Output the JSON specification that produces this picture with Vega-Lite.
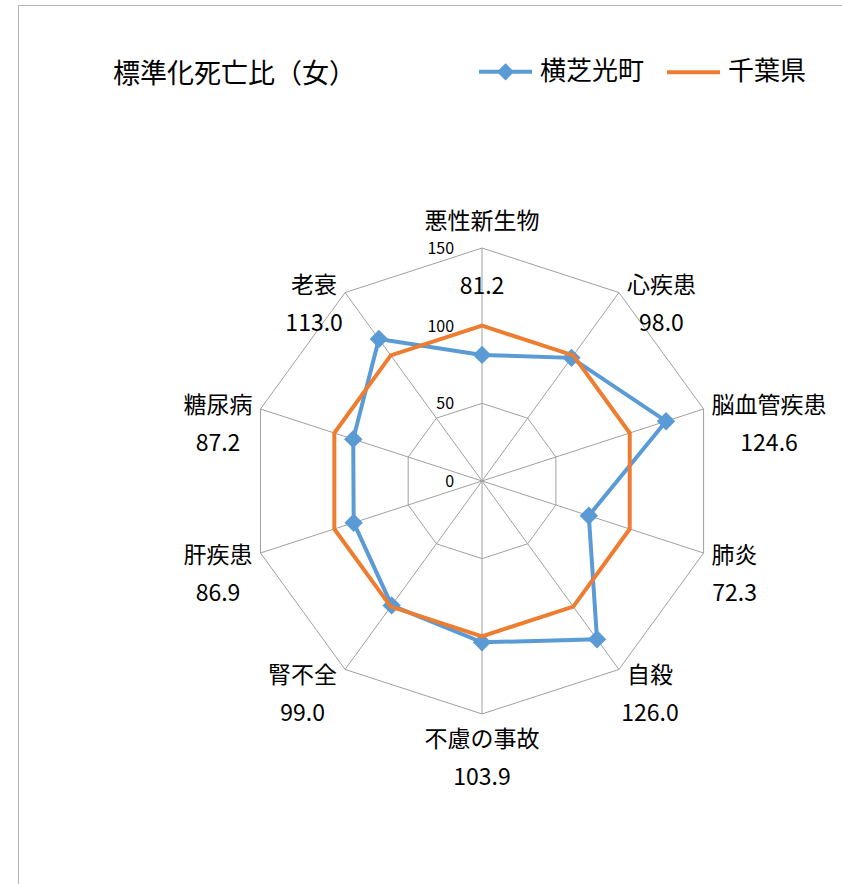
{
  "$schema": "https://vega.github.io/schema/vega-lite/v6.json",
  "width": 824,
  "height": 879,
  "autosize": {"type": "none"},
  "padding": {"left": 18, "top": 5, "right": 0, "bottom": 0},
  "background": "white",
  "config": {
    "view": {"stroke": "#B4B4B4", "strokeWidth": 1, "strokeDash": [824, 1703, 879]},
    "font": "Noto Sans CJK JP",
    "text": {"font": "Noto Sans CJK JP"}
  },
  "title": {
    "text": "標準化死亡比（女）",
    "anchor": "start",
    "frame": "group",
    "orient": "top",
    "offset": 0,
    "baseline": "middle",
    "dx": 95,
    "dy": 97,
    "fontSize": 27,
    "fontWeight": "normal",
    "font": "Noto Sans CJK JP",
    "color": "#000000"
  },
  "datasets": {
    "rates": [
      {"i": 0, "cat": "悪性新生物", "series": "横芝光町", "value": 81.2},
      {"i": 1, "cat": "心疾患", "series": "横芝光町", "value": 98.0},
      {"i": 2, "cat": "脳血管疾患", "series": "横芝光町", "value": 124.6},
      {"i": 3, "cat": "肺炎", "series": "横芝光町", "value": 72.3},
      {"i": 4, "cat": "自殺", "series": "横芝光町", "value": 126.0},
      {"i": 5, "cat": "不慮の事故", "series": "横芝光町", "value": 103.9},
      {"i": 6, "cat": "腎不全", "series": "横芝光町", "value": 99.0},
      {"i": 7, "cat": "肝疾患", "series": "横芝光町", "value": 86.9},
      {"i": 8, "cat": "糖尿病", "series": "横芝光町", "value": 87.2},
      {"i": 9, "cat": "老衰", "series": "横芝光町", "value": 113.0},
      {"i": 0, "cat": "悪性新生物", "series": "千葉県", "value": 100},
      {"i": 1, "cat": "心疾患", "series": "千葉県", "value": 100},
      {"i": 2, "cat": "脳血管疾患", "series": "千葉県", "value": 100},
      {"i": 3, "cat": "肺炎", "series": "千葉県", "value": 100},
      {"i": 4, "cat": "自殺", "series": "千葉県", "value": 100},
      {"i": 5, "cat": "不慮の事故", "series": "千葉県", "value": 100},
      {"i": 6, "cat": "腎不全", "series": "千葉県", "value": 100},
      {"i": 7, "cat": "肝疾患", "series": "千葉県", "value": 100},
      {"i": 8, "cat": "糖尿病", "series": "千葉県", "value": 100},
      {"i": 9, "cat": "老衰", "series": "千葉県", "value": 100}
    ],
    "grid": [
      {"i": 0, "levels": [50, 100, 150]},
      {"i": 1, "levels": [50, 100, 150]},
      {"i": 2, "levels": [50, 100, 150]},
      {"i": 3, "levels": [50, 100, 150]},
      {"i": 4, "levels": [50, 100, 150]},
      {"i": 5, "levels": [50, 100, 150]},
      {"i": 6, "levels": [50, 100, 150]},
      {"i": 7, "levels": [50, 100, 150]},
      {"i": 8, "levels": [50, 100, 150]},
      {"i": 9, "levels": [50, 100, 150]}
    ],
    "ticks": [{"t": 0}, {"t": 50}, {"t": 100}, {"t": 150}]
  },
  "layer": [
    {
      "data": {"name": "grid"},
      "transform": [
        {"flatten": ["levels"], "as": ["level"]},
        {"calculate": "datum.i*PI/5", "as": "th"},
        {"calculate": "datum.level*sin(datum.th)", "as": "x"},
        {"calculate": "datum.level*cos(datum.th)", "as": "y"}
      ],
      "mark": {"type": "line", "interpolate": "linear-closed", "stroke": "#A0A0A0", "strokeWidth": 1},
      "encoding": {
        "x": {"field": "x", "type": "quantitative", "scale": {"domain": [-298.8, 231.8], "nice": false, "zero": false}, "axis": null},
        "y": {"field": "y", "type": "quantitative", "scale": {"domain": [-259.5, 306.5], "nice": false, "zero": false}, "axis": null},
        "detail": {"field": "level", "type": "nominal"},
        "order": {"field": "i", "type": "quantitative"}
      }
    },
    {
      "data": {"name": "grid"},
      "transform": [
        {"calculate": "datum.i*PI/5", "as": "th"},
        {"calculate": "150*sin(datum.th)", "as": "x"},
        {"calculate": "150*cos(datum.th)", "as": "y"},
        {"calculate": "0", "as": "z"}
      ],
      "mark": {"type": "rule", "stroke": "#A0A0A0", "strokeWidth": 1},
      "encoding": {
        "x": {"field": "x", "type": "quantitative"},
        "y": {"field": "y", "type": "quantitative"},
        "x2": {"field": "z"},
        "y2": {"field": "z"}
      }
    },
    {
      "data": {"name": "ticks"},
      "mark": {"type": "text", "align": "right", "baseline": "middle", "dx": -28, "dy": 1, "fontSize": 16, "color": "#000000"},
      "encoding": {
        "x": {"datum": 0, "type": "quantitative"},
        "y": {"field": "t", "type": "quantitative"},
        "text": {"field": "t", "type": "quantitative"}
      }
    },
    {
      "data": {"name": "rates"},
      "transform": [
        {"filter": "datum.series === '横芝光町'"},
        {"calculate": "datum.i*PI/5", "as": "th"},
        {"calculate": "datum.value*sin(datum.th)", "as": "x"},
        {"calculate": "datum.value*cos(datum.th)", "as": "y"}
      ],
      "mark": {"type": "line", "interpolate": "linear-closed", "strokeWidth": 4},
      "encoding": {
        "x": {"field": "x", "type": "quantitative"},
        "y": {"field": "y", "type": "quantitative"},
        "order": {"field": "i", "type": "quantitative"},
        "color": {
          "field": "series",
          "type": "nominal",
          "scale": {"domain": ["横芝光町", "千葉県"], "range": ["#5B9BD5", "#ED7D31"]},
          "legend": {
            "orient": "none",
            "legendX": 459,
            "legendY": 38,
            "direction": "horizontal",
            "title": null,
            "labelFontSize": 26,
            "labelFont": "Noto Sans CJK JP",
            "labelColor": "#000000",
            "labelOffset": 6,
            "columnPadding": 14,
            "padding": 0,
            "symbolSize": 2809,
            "encode": {
              "symbols": {
                "update": {
                  "shape": {"signal": "datum.value === '横芝光町' ? 'M-1,0L1,0M0,-0.22L0.22,0L0,0.22L-0.22,0Z' : 'M-1,0L1,0'"},
                  "fill": {"signal": "datum.value === '横芝光町' ? '#5B9BD5' : 'transparent'"},
                  "stroke": {"signal": "datum.value === '横芝光町' ? '#5B9BD5' : '#ED7D31'"},
                  "strokeWidth": {"value": 4},
                  "opacity": {"value": 1}
                }
              }
            }
          }
        }
      }
    },
    {
      "data": {"name": "rates"},
      "transform": [
        {"filter": "datum.series === '横芝光町'"},
        {"calculate": "datum.i*PI/5", "as": "th"},
        {"calculate": "datum.value*sin(datum.th)", "as": "x"},
        {"calculate": "datum.value*cos(datum.th)", "as": "y"}
      ],
      "mark": {"type": "point", "shape": "diamond", "filled": true, "size": 340, "opacity": 1},
      "encoding": {
        "x": {"field": "x", "type": "quantitative"},
        "y": {"field": "y", "type": "quantitative"},
        "color": {"field": "series", "type": "nominal"}
      }
    },
    {
      "data": {"name": "rates"},
      "transform": [
        {"filter": "datum.series === '千葉県'"},
        {"calculate": "datum.i*PI/5", "as": "th"},
        {"calculate": "datum.value*sin(datum.th)", "as": "x"},
        {"calculate": "datum.value*cos(datum.th)", "as": "y"}
      ],
      "mark": {"type": "line", "interpolate": "linear-closed", "strokeWidth": 4},
      "encoding": {
        "x": {"field": "x", "type": "quantitative"},
        "y": {"field": "y", "type": "quantitative"},
        "order": {"field": "i", "type": "quantitative"},
        "color": {"field": "series", "type": "nominal"}
      }
    },
    {
      "data": {"name": "rates"},
      "transform": [
        {"filter": "datum.series === '横芝光町'"},
        {"calculate": "datum.i*PI/5", "as": "th"},
        {"calculate": "datum.i==0||datum.i==5 ? 0 : (datum.i<5 ? 1 : -1)", "as": "side"},
        {"calculate": "150*sin(datum.th)", "as": "vx"},
        {"calculate": "150*cos(datum.th)", "as": "vy"},
        {"calculate": "datum.vx + datum.side*(8 + length(datum.cat)*23/2)/1.553", "as": "nx"},
        {"calculate": "datum.side==0 ? datum.vy + (datum.i==0 ? 26 : -26)/1.553 : datum.vy*1.035", "as": "ny"}
      ],
      "mark": {"type": "text", "align": "center", "baseline": "middle", "fontSize": 23, "color": "#000000"},
      "encoding": {
        "x": {"field": "nx", "type": "quantitative"},
        "y": {"field": "ny", "type": "quantitative"},
        "text": {"field": "cat", "type": "nominal"}
      }
    },
    {
      "data": {"name": "rates"},
      "transform": [
        {"filter": "datum.series === '横芝光町'"},
        {"calculate": "datum.i*PI/5", "as": "th"},
        {"calculate": "datum.i==0||datum.i==5 ? 0 : (datum.i<5 ? 1 : -1)", "as": "side"},
        {"calculate": "150*sin(datum.th)", "as": "vx"},
        {"calculate": "150*cos(datum.th)", "as": "vy"},
        {"calculate": "datum.vx + datum.side*(8 + length(datum.cat)*23/2)/1.553", "as": "nx"},
        {"calculate": "datum.side==0 ? datum.vy + (datum.i==0 ? 26 : -26)/1.553 : datum.vy*1.035", "as": "ny"},
        {"calculate": "datum.ny - (datum.i==0 ? 65 : 38)/1.553", "as": "vly"}
      ],
      "mark": {"type": "text", "align": "center", "baseline": "middle", "fontSize": 23, "color": "#000000"},
      "encoding": {
        "x": {"field": "nx", "type": "quantitative"},
        "y": {"field": "vly", "type": "quantitative"},
        "text": {"field": "value", "type": "quantitative", "format": ".1f"}
      }
    }
  ]
}
